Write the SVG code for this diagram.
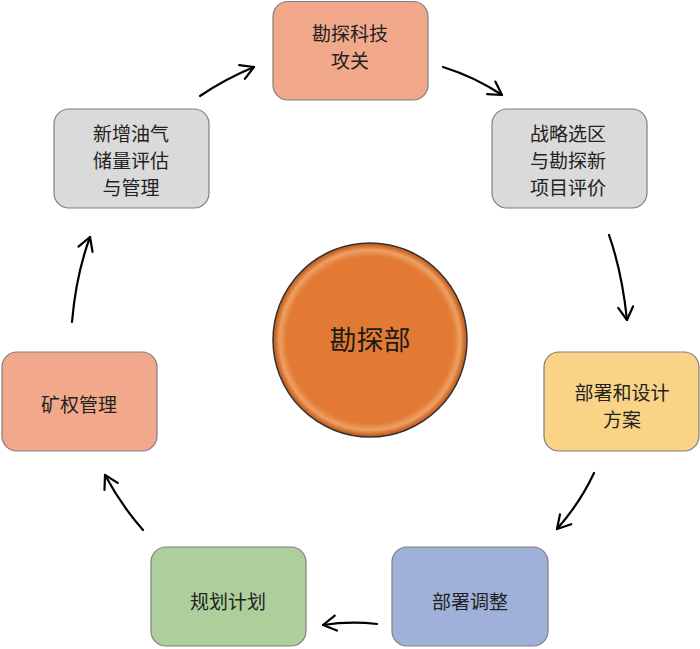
<svg xmlns="http://www.w3.org/2000/svg" width="700" height="649" viewBox="0 0 700 649">
<defs>
<style>
.box{stroke:#7f7f7f;stroke-width:1.2}
.t{font-family:"Noto Sans CJK SC","Noto Sans",sans-serif;font-size:19px;fill:#222;text-anchor:middle}
.c{font-family:"Noto Sans CJK SC","Noto Sans",sans-serif;font-size:27px;fill:#1a1a1a;text-anchor:middle}
.a{fill:none;stroke:#000;stroke-width:2.2;stroke-linecap:round;marker-end:url(#ah)}
</style>
<marker id="ah" viewBox="0 0 18 18" refX="16" refY="9" markerWidth="18" markerHeight="18" markerUnits="userSpaceOnUse" orient="auto">
<path d="M3,1.5 L16,9 L3,16.5" fill="none" stroke="#000" stroke-width="2.2" stroke-linecap="round" stroke-linejoin="round"/>
</marker>
<radialGradient id="cg" cx="0.5" cy="0.5" r="0.5">
<stop offset="0" stop-color="#e27a33"/>
<stop offset="0.86" stop-color="#e27a33"/>
<stop offset="0.93" stop-color="#eda065"/>
<stop offset="0.975" stop-color="#d06a28"/>
<stop offset="1" stop-color="#b85a20"/>
</radialGradient>
</defs>
<g id="connectors">
<path class="a" d="M200,96 Q225,79 254,67"/>
<path class="a" d="M443,67 Q475,77 502,95"/>
<path class="a" d="M609,235 Q622,272 627,320"/>
<path class="a" d="M594,473 Q580,503 557,529"/>
<path class="a" d="M377,624 Q350,621 323,625"/>
<path class="a" d="M143,530 Q121,505 105,475"/>
<path class="a" d="M72,322 Q76,275 90,237"/>
</g>
<g id="center">
<circle cx="370" cy="340" r="97" fill="url(#cg)" stroke="#333" stroke-width="1.5"/>
<text class="c" x="370" y="350">勘探部</text>
</g>
<g id="n1">
<rect class="box" x="273" y="1.5" width="155" height="98.5" rx="15" fill="#f2a98b"/>
<text class="t" x="350" y="41">勘探科技</text>
<text class="t" x="350" y="68">攻关</text>
</g>
<g id="n2">
<rect class="box" x="492" y="109" width="155" height="99" rx="15" fill="#dadada"/>
<text class="t" x="568" y="141">战略选区</text>
<text class="t" x="568" y="168">与勘探新</text>
<text class="t" x="568" y="195">项目评价</text>
</g>
<g id="n3">
<rect class="box" x="544" y="352" width="155" height="99" rx="15" fill="#f9d486"/>
<text class="t" x="622" y="400">部署和设计</text>
<text class="t" x="622" y="427">方案</text>
</g>
<g id="n4">
<rect class="box" x="392" y="547" width="156" height="99" rx="15" fill="#a0b1d9"/>
<text class="t" x="470" y="609">部署调整</text>
</g>
<g id="n5">
<rect class="box" x="151" y="547" width="155" height="99" rx="15" fill="#aecf9c"/>
<text class="t" x="228" y="609">规划计划</text>
</g>
<g id="n6">
<rect class="box" x="2" y="352" width="155" height="99" rx="15" fill="#f2a98b"/>
<text class="t" x="79" y="412">矿权管理</text>
</g>
<g id="n7">
<rect class="box" x="54" y="109" width="155" height="99" rx="15" fill="#dadada"/>
<text class="t" x="131" y="141">新增油气</text>
<text class="t" x="131" y="168">储量评估</text>
<text class="t" x="131" y="195">与管理</text>
</g>
</svg>
